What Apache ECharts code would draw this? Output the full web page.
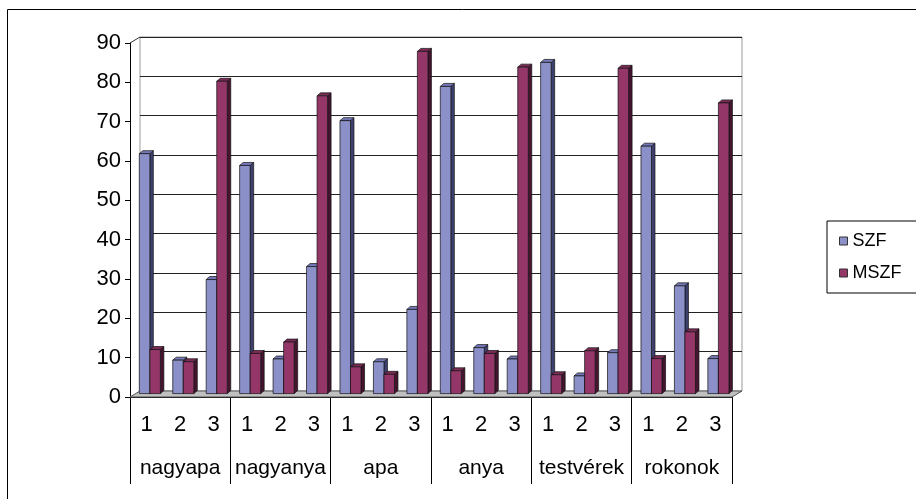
<!DOCTYPE html>
<html>
<head>
<meta charset="utf-8">
<script src="https://cdn.jsdelivr.net/npm/echarts@6/dist/echarts.min.js"></script>
<style>
  html, body { margin: 0; padding: 0; background: #fff; }
  #chart { width: 916px; height: 499px; }
</style>
</head>
<body>
<div id="chart"></div>
<script>
const subLabels = ["1", "2", "3", "1", "2", "3", "1", "2", "3", "1", "2", "3", "1", "2", "3", "1", "2", "3"];
const groups = ["nagyapa", "nagyanya", "apa", "anya", "testvérek", "rokonok"];
const szf = [61, 8.5, 29, 58, 8.8, 32.3, 69.4, 8.1, 21.4, 78.1, 11.7, 8.8, 84.2, 4.5, 10.4, 62.9, 27.4, 8.9];
const mszf = [11.2, 8.1, 79.4, 10.2, 13.1, 75.7, 6.8, 4.9, 87, 5.8, 10.2, 83, 4.8, 10.9, 82.7, 8.9, 15.7, 73.9];
const yMax = 90;
const yStep = 10;

const chart = echarts.init(document.getElementById("chart"));

// depth of the 3d box (back wall offset) and of the columns
const wallDx = 10;
const wallDy = -6;
const barDx = 3.5;
const barDy = -3;

function barRenderer(slot, colors) {
  return function (params, api) {
    const i = api.value(0);
    const v = api.value(1);
    const base = api.coord([i, 0]);
    const top = api.coord([i, v]);
    const band = api.size([1, 0])[0];
    const w = band * 0.315;
    const x = base[0] + band * 0.093 + slot * w;
    const yb = base[1] - 3.4;
    const yt = top[1] - 3.4;
    const stroke = { stroke: "#111", lineWidth: 0.7 };
    return {
      type: "group",
      children: [
        {
          type: "polygon",
          shape: { points: [[x + w, yt], [x + w + barDx, yt + barDy], [x + w + barDx, yb + barDy], [x + w, yb]] },
          style: Object.assign({ fill: colors.side }, stroke)
        },
        {
          type: "polygon",
          shape: { points: [[x, yt], [x + w, yt], [x + w + barDx, yt + barDy], [x + barDx, yt + barDy]] },
          style: Object.assign({ fill: colors.top }, stroke)
        },
        {
          type: "rect",
          shape: { x: x, y: yt, width: w, height: yb - yt },
          style: Object.assign({ fill: colors.front }, stroke)
        }
      ]
    };
  };
}

function floorRenderer(params, api) {
  const cs = params.coordSys;
  const x0 = cs.x, x1 = cs.x + cs.width, yb = cs.y + cs.height, yt = cs.y;
  return {
    type: "group",
    children: [
      {
        type: "polygon",
        shape: { points: [[x0, yb], [x1, yb], [x1 + wallDx, yb + wallDy], [x0 + wallDx, yb + wallDy]] },
        style: { fill: "#c0c0c0", stroke: "#555", lineWidth: 1 }
      },
      {
        type: "line",
        shape: { x1: x0, y1: yt, x2: x0 + wallDx, y2: yt + wallDy },
        style: { stroke: "#333", lineWidth: 1 }
      }
    ]
  };
}

const font = "Liberation Sans, Arial, sans-serif";

chart.setOption({
  animation: false,
  textStyle: { fontFamily: font, color: "#000" },
  graphic: [
    {
      type: "rect",
      shape: { x: 7.5, y: 9.5, width: 1200, height: 1200 },
      style: { fill: "none", stroke: "#000", lineWidth: 1 },
      silent: true
    }
  ],
  legend: {
    data: ["SZF", "MSZF"],
    orient: "vertical",
    left: 827,
    top: 221,
    padding: [11, 40, 11, 12],
    itemGap: 14,
    itemWidth: 8,
    itemHeight: 8,
    icon: "rect",
    borderColor: "#000",
    borderWidth: 1,
    itemStyle: { borderColor: "#333", borderWidth: 1 },
    textStyle: { fontSize: 18, color: "#000", fontFamily: font }
  },
  grid: [
    { left: 130, top: 43, width: 602, height: 354 },
    { left: 130 + wallDx, top: 43 + wallDy, width: 602, height: 354, show: true, borderColor: "#999", borderWidth: 1, backgroundColor: "transparent" }
  ],
  xAxis: [
    {
      type: "category",
      gridIndex: 0,
      data: subLabels,
      position: "bottom",
      axisLine: { onZero: false, lineStyle: { color: "#000", width: 1 } },
      axisTick: { interval: 0, length: 43, lineStyle: { color: "#000" } },
      axisLabel: { interval: 0, fontSize: 22, margin: 17, color: "#000" }
    },
    {
      type: "category",
      gridIndex: 0,
      data: groups,
      position: "bottom",
      axisLine: { show: false, onZero: false },
      axisTick: { show: true, interval: 0, length: 87, lineStyle: { color: "#000" } },
      axisLabel: { interval: 0, fontSize: 21, margin: 61, color: "#000" }
    },
    {
      type: "category",
      gridIndex: 1,
      data: subLabels,
      show: false
    }
  ],
  yAxis: [
    {
      type: "value",
      gridIndex: 0,
      min: 0,
      max: yMax,
      interval: yStep,
      axisLine: { show: true, lineStyle: { color: "#000" } },
      axisTick: { show: true, length: 5, lineStyle: { color: "#000" } },
      axisLabel: { fontSize: 22, margin: 9, color: "#000" },
      splitLine: { show: false }
    },
    {
      type: "value",
      gridIndex: 1,
      min: 0,
      max: yMax,
      interval: yStep,
      axisLine: { show: false },
      axisTick: { show: false },
      axisLabel: { show: false },
      splitLine: { show: true, lineStyle: { color: "#222", width: 1 } }
    }
  ],
  series: [
    {
      name: "floor",
      type: "custom",
      xAxisIndex: 0,
      yAxisIndex: 0,
      renderItem: floorRenderer,
      data: [[0, 0]],
      silent: true
    },
    {
      name: "SZF",
      type: "custom",
      xAxisIndex: 0,
      yAxisIndex: 0,
      itemStyle: { color: "#8C90C8" },
      encode: { x: 0, y: 1 },
      renderItem: barRenderer(-1, { front: "#8C90C8", top: "#7478B8", side: "#3E4170" }),
      data: szf.map((v, i) => [i, v])
    },
    {
      name: "MSZF",
      type: "custom",
      xAxisIndex: 0,
      yAxisIndex: 0,
      itemStyle: { color: "#943768" },
      encode: { x: 0, y: 1 },
      renderItem: barRenderer(0, { front: "#943768", top: "#7C2B57", side: "#45152F" }),
      data: mszf.map((v, i) => [i, v])
    }
  ]
});
</script>
</body>
</html>
